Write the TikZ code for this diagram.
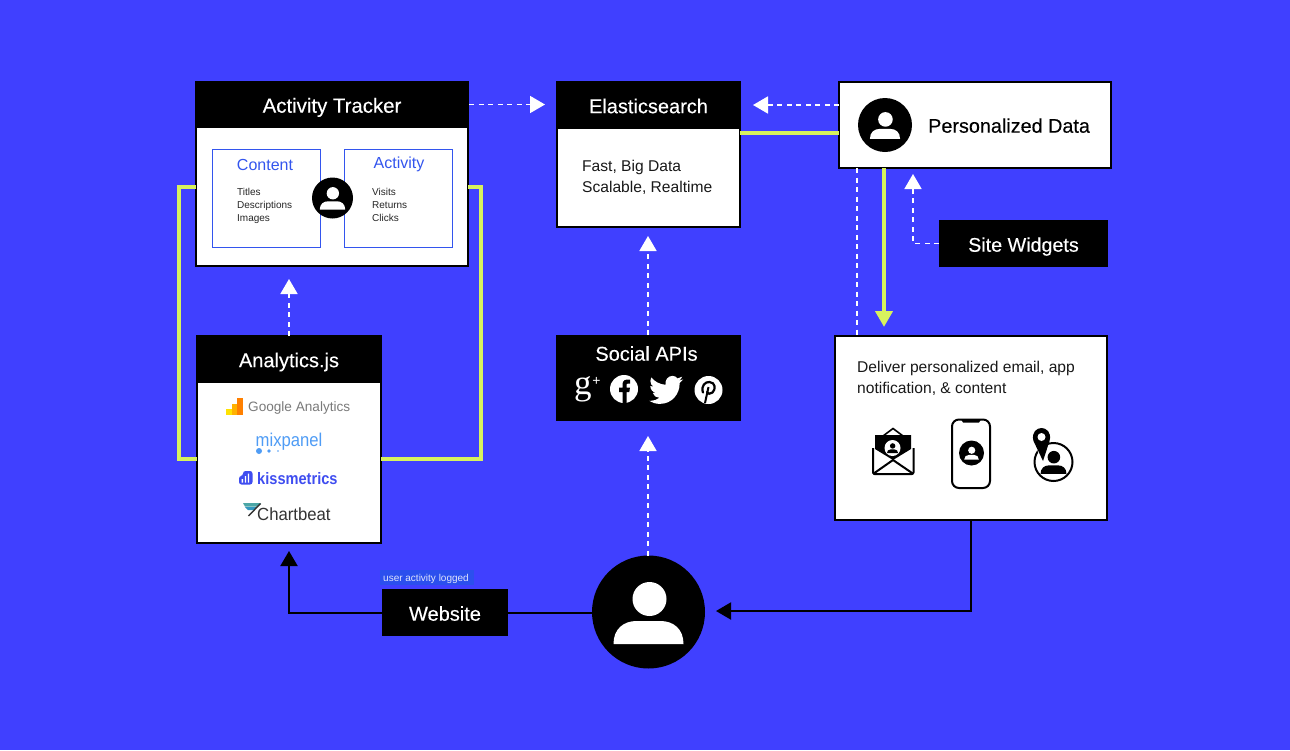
\documentclass[tikz,border=0pt]{standalone}
\usepackage{fontspec}
\setmainfont{Liberation Sans}
\newfontfamily\medfont[FakeBold=0.25]{Liberation Sans}
\newfontfamily\boldfont{Liberation Sans Bold}
\newfontfamily\kissfont[FakeStretch=0.88]{Liberation Sans Bold}
\newfontfamily\mixfont[FakeStretch=0.9]{Liberation Sans}
\newfontfamily\chartfont[FakeStretch=0.95]{Liberation Sans}
\newfontfamily\seriffont{Liberation Serif}
\usetikzlibrary{arrows.meta,calc}
\definecolor{bgblue}{HTML}{4040FF}
\definecolor{lime}{HTML}{D7F25E}
\definecolor{boxblue}{HTML}{3355EE}
\definecolor{tagblue}{HTML}{2B4FEE}
\definecolor{gagray}{HTML}{7A7A7A}
\definecolor{mixblue}{HTML}{4F9CF5}
\definecolor{kissblue}{HTML}{3F4DF0}
\definecolor{chartdark}{HTML}{333333}
\newcommand{\fs}[1]{\fontsize{#1}{#1}\selectfont}
\newcommand{\persong}[4]{%
  \begin{scope}[shift={(#1,#2)},scale=#3]
    \fill[#4] (1,-13) circle (17);
    \fill[#4] (-35,32) .. controls (-35,17) and (-25,9) .. (-12,9) -- (12,9) .. controls (25,9) and (35,17) .. (35,32) -- cycle;
  \end{scope}}
\tikzset{
  x=1pt,y=-1pt,
  whitebox/.style={draw=black,line width=2pt,fill=white,inner sep=0pt,outer sep=0pt},
  headbox/.style={fill=black,text=white,inner sep=0pt,outer sep=0pt,text height=16.4pt,text depth=0pt,font=\medfont\fs{20}},
  bluebox/.style={draw=boxblue,line width=1pt,fill=white,inner sep=0pt,outer sep=0pt},
  bluetitle/.style={anchor=base,text=boxblue,inner sep=0pt,font=\fs{16}},
  smalllist/.style={anchor=base west,inner sep=0pt,text=black!85,font=\fs{10}},
  disc/.style={circle,fill=black,inner sep=0pt,outer sep=0pt},
  wdash/.style={draw=white,line width=1.7pt,dash pattern=on 5pt off 4.5pt},
  wtip/.style={wdash,-{Triangle[length=15pt,width=17pt,fill=white]}},
  limeline/.style={draw=lime,line width=4pt},
  limearrow/.style={limeline,-{Triangle[length=16pt,width=17pt,fill=lime]}},
  blackline/.style={draw=black,line width=2pt},
  blackarrow/.style={blackline,-{Triangle[length=15pt,width=17pt,fill=black]}},
  bodytext/.style={anchor=base west,inner sep=0pt,text=black!90,font=\fs{15.6}},
}
\begin{document}
\begin{tikzpicture}
\useasboundingbox (0,0) rectangle (1290,750);
\fill[bgblue] (0,0) rectangle (1290,750);

% --- boxes
\node[whitebox,minimum width=272pt,minimum height=184pt] (tracker) at (332,174) {};
\node[headbox,minimum width=274pt,minimum height=47pt,font=\medfont\fs{20.4}] (trackerhead) at (332,104.5) {Activity Tracker};
\node[bluebox,minimum width=108pt,minimum height=98pt] (contentbox) at (266.5,198.5) {};
\node[bluebox,minimum width=108pt,minimum height=98pt] (activitybox) at (398.5,198.5) {};
\node[bluetitle] (contenttitle) at (265,170) {Content};
\node[bluetitle] (activitytitle) at (399,168.7) {Activity};
\node[smalllist] (content1) at (237,195) {Titles};
\node[smalllist] (content2) at (237,208) {Descriptions};
\node[smalllist] (content3) at (237,221) {Images};
\node[smalllist] (activity1) at (372,195) {Visits};
\node[smalllist] (activity2) at (372,208) {Returns};
\node[smalllist] (activity3) at (372,221) {Clicks};
\node[disc,minimum size=41pt] (trackerdisc) at (332.5,198) {};
\persong{332.5}{198}{0.363}{white}

\node[whitebox,minimum width=184pt,minimum height=207pt] (analytics) at (289,439.5) {};
\node[headbox,minimum width=186pt,minimum height=48pt] (analyticshead) at (289,359) {Analytics.js};

\node[whitebox,minimum width=183pt,minimum height=145pt] (elastic) at (648.5,154.5) {};
\node[headbox,minimum width=185pt,minimum height=48pt] (elastichead) at (648.5,105) {Elasticsearch};
\node[bodytext] (elastictext1) at (582,171) {Fast, Big Data};
\node[bodytext] (elastictext2) at (582,192) {Scalable, Realtime};

\node[whitebox,minimum width=272pt,minimum height=86pt] (personal) at (975,125) {};
\node[disc,minimum size=54pt] (personaldisc) at (885,125) {};
\persong{885}{125}{0.43}{white}
\node[anchor=base west,inner sep=0pt,text=black,font=\medfont\fs{19.8}] (personaltext) at (928,132.7) {Personalized Data};

\node[headbox,minimum width=169pt,minimum height=47pt,font=\medfont\fs{19.7}] (widgets) at (1023.5,243.5) {Site Widgets};

\node[fill=black,inner sep=0pt,outer sep=0pt,minimum width=185pt,minimum height=86pt] (social) at (648.5,378) {};
\node[anchor=base,text=white,inner sep=0pt,font=\medfont\fs{20}] (socialtitle) at (646.5,360.7) {Social APIs};

\node[whitebox,minimum width=272pt,minimum height=184pt] (deliver) at (971,428) {};
\node[bodytext] (delivertext1) at (857,372) {Deliver personalized email, app};
\node[bodytext] (delivertext2) at (857,393) {notification, \& content};

\node[headbox,minimum width=126pt,minimum height=47pt] (website) at (445,612.5) {Website};
\node[fill=tagblue,inner sep=0pt,minimum width=94pt,minimum height=15pt] (logtag) at (427,577.5) {};
\node[anchor=base west,text=white!85!tagblue,inner sep=0pt,font=\fs{10}] (logtext) at (383,581) {user activity logged};

\node[disc,minimum size=113pt] (user) at (648.5,612) {};
\persong{648.5}{612}{1}{white}

% --- logos in Analytics.js
\fill[yellow!85!orange] (226,409) -- (231.5,409) -- (231.5,415) -- (226,415) -- cycle;
\fill[orange!60!yellow] (231.5,404) rectangle (237,415);
\fill[orange] (237,398) rectangle (243,415);
\node[anchor=west,inner sep=0pt,text=gagray,font=\fs{13.6}] (galogo) at (248,407.5) {Google Analytics};
\node[anchor=base west,inner sep=0pt,text=mixblue,font=\mixfont\fs{18.5}] (mixlogo) at (255.5,446) {mixpanel};
\fill[mixblue] (259,451) circle (3) (269,451) circle (1.9) (278,451) circle (0.9);
\fill[kissblue,rounded corners=2.5pt] (239,484.5) -- (239,476) -- (243,476) -- (243,471) -- (252.5,471) -- (252.5,484.5) -- cycle;
\fill[white] (241.7,479) rectangle (243,482.5) (244.8,476) rectangle (246.1,482.5) (247.9,473.5) rectangle (249.2,482.5);
\node[anchor=base west,inner sep=0pt,text=kissblue,font=\kissfont\fs{16.6}] (kisslogo) at (257,484) {kissmetrics};
\fill[teal!70!white] (243,503) -- (261,503) -- (257.5,506.5) -- (245,506.5) -- cycle;
\fill[cyan!50!teal] (245,507) -- (257,507) -- (254,510) -- (248,510) -- cycle;
\draw[chartdark,line width=1.4pt] (260.5,503.5) -- (248.5,516);
\node[anchor=base west,inner sep=0pt,text=chartdark,font=\chartfont\fs{17.6}] (chartlogo) at (257,520) {Chartbeat};

% --- social icons
\node[anchor=base west,inner sep=0pt,text=white,font=\seriffont\fs{35}] (gplusg) at (574,394.5) {g};
\node[inner sep=0pt,text=white,font=\fs{14}] (gplusp) at (596.5,381.5) {+};
\node[circle,fill=white,minimum size=28pt,inner sep=0pt] (fbdisc) at (624,389) {};
\begin{scope}[shift={(624,389)}]
  \fill[black] (-1.5,14.2) -- (-1.5,3) -- (-5,3) -- (-5,-1.5) -- (-1.5,-1.5) -- (-1.5,-4.5) .. controls (-1.5,-8.5) and (1,-10) .. (6,-9.5) -- (6,-5.5) -- (4,-5.5) .. controls (2.5,-5.5) and (2.5,-4.5) .. (2.5,-3.5) -- (2.5,-1.5) -- (6,-1.5) -- (5.3,3) -- (2.5,3) -- (2.5,14.2) -- cycle;
\end{scope}
\begin{scope}[shift={(649,373)},scale=1.42]
  \fill[white] (23.95,4.57) .. controls (23.1,4.95) and (22.1,5.2) .. (21.13,5.35)
   .. controls (22.15,4.74) and (22.9,3.78) .. (23.29,2.62)
   .. controls (22.34,3.18) and (21.29,3.58) .. (20.16,3.81)
   .. controls (19.2,2.7) and (17.9,2.0) .. (16.55,2.0)
   .. controls (13.4,2.0) and (11.0,5.0) .. (11.78,8.29)
   .. controls (7.69,8.095) and (4.067,6.13) .. (1.64,3.16)
   .. controls (1.2,3.9) and (0.97,4.75) .. (0.97,5.64)
   .. controls (0.97,7.35) and (1.84,8.85) .. (3.16,9.73)
   .. controls (2.35,9.7) and (1.6,9.5) .. (0.93,9.12)
   -- (0.93,9.18)
   .. controls (0.93,11.55) and (2.62,13.55) .. (4.88,14.0)
   .. controls (4.15,14.2) and (3.4,14.25) .. (2.66,14.09)
   .. controls (3.3,16.1) and (5.1,17.45) .. (7.27,17.5)
   .. controls (5.5,18.8) and (3.4,19.61) .. (1.17,19.61)
   .. controls (0.78,19.61) and (0.39,19.59) .. (0,19.54)
   .. controls (2.19,20.93) and (4.78,21.75) .. (7.56,21.75)
   .. controls (16.61,21.75) and (21.55,14.25) .. (21.55,7.76)
   .. controls (21.55,7.55) and (21.55,7.34) .. (21.54,7.13)
   .. controls (22.5,6.44) and (23.3,5.57) .. (24,4.59) -- cycle;
\end{scope}
\node[circle,fill=white,minimum size=28pt,inner sep=0pt] (pindisc) at (708.5,390) {};
\begin{scope}[shift={(708.5,390)}]
  \draw[black,line width=2.2pt,line cap=round] (-5.5,2.5) .. controls (-8,-4) and (-3,-8.5) .. (1,-8) .. controls (7,-7.5) and (7.5,-1) .. (4,2.5) .. controls (2,4.5) and (-1,4) .. (-1.5,2);
  \draw[black,line width=2pt] (0,-3) -- (-3.5,13);
\end{scope}

% --- deliver icons: envelope
\draw[black,line width=2pt,line join=round,rounded corners=1.5pt] (873,448) -- (873,474) -- (913.5,474) -- (913.5,448);
\draw[black,line width=2pt] (873,474) -- (893,460) -- (913.5,474);
\draw[black,line width=1.6pt] (883,436) -- (893,428.5) -- (903,436);
\fill[black] (875,435) -- (911,435) -- (911,449) -- (893,460) -- (875,449) -- cycle;
\node[circle,fill=white,minimum size=16pt,inner sep=0pt] (maildisc) at (892.5,448) {};
\persong{892.5}{448}{0.16}{black}
% phone
\draw[black,line width=2pt,rounded corners=7pt] (952,419.5) rectangle (990,488);
\fill[black] (961,419.5) -- (981,419.5) -- (979,422.5) -- (963,422.5) -- cycle;
\node[disc,minimum size=25pt] (phonedisc) at (971.5,453) {};
\persong{971.5}{453}{0.21}{white}
% pin and person
\node[circle,draw=black,line width=2pt,minimum size=38pt,inner sep=0pt] (pinring) at (1053.5,462) {};
\persong{1053.5}{462}{0.37}{black}
\fill[white] (1033,437) -- (1050,437) -- (1042,464) -- cycle;
\fill[black] (1033.5,441) .. controls (1031,432) and (1037,428) .. (1041.5,428) .. controls (1046,428) and (1052,432) .. (1049.5,441) -- (1043,461) -- cycle;
\fill[white] (1041.5,437) circle (4);

% --- connectors
\coordinate (l1) at (179,187);
\coordinate (l2) at (481,459);
\draw[limeline] (tracker.west |- l1) -- (l1) -- (l1 |- l2) -- (analytics.west |- l2);
\draw[limeline] (tracker.east |- l1) -- (l2 |- l1) -- (l2) -- (analytics.east |- l2);
\coordinate (l3) at (0,133);
\draw[limeline,line width=3.5pt] (elastic.east |- l3) -- (personal.west |- l3);
\coordinate (l4) at (884,0);
\draw[limearrow,shorten >=9pt] (personal.south -| l4) -- (deliver.north -| l4);

\draw[wtip,shorten >=11pt] (trackerhead.east) -- (trackerhead.east -| elastichead.west);
\coordinate (d1) at (0,105);
\draw[wtip,shorten >=12pt] (personal.west |- d1) -- (elastichead.east |- d1);
\draw[wtip,shorten >=13pt] (analytics.north) -- (analytics.north |- tracker.south);
\coordinate (d4) at (648,0);
\draw[wtip,shorten >=9pt] (social.north -| d4) -- (elastic.south -| d4);
\draw[wtip,shorten >=15pt] (user.north -| d4) -- (social.south -| d4);
\coordinate (d2) at (913,0);
\draw[wtip,shorten >=6pt] (widgets.west) -- (widgets.west -| d2) -- (personal.south -| d2);
\coordinate (d3) at (857,0);
\draw[wdash] (personal.south -| d3) -- (deliver.north -| d3);

\draw[blackline] (website.east) -- (user.west |- website.east);
\draw[blackarrow,shorten >=8pt] (website.west) -| (analytics.south);
\draw[blackarrow,shorten >=11pt] (deliver.south) |- ([yshift=1pt]user.east);
\end{tikzpicture}
\end{document}
